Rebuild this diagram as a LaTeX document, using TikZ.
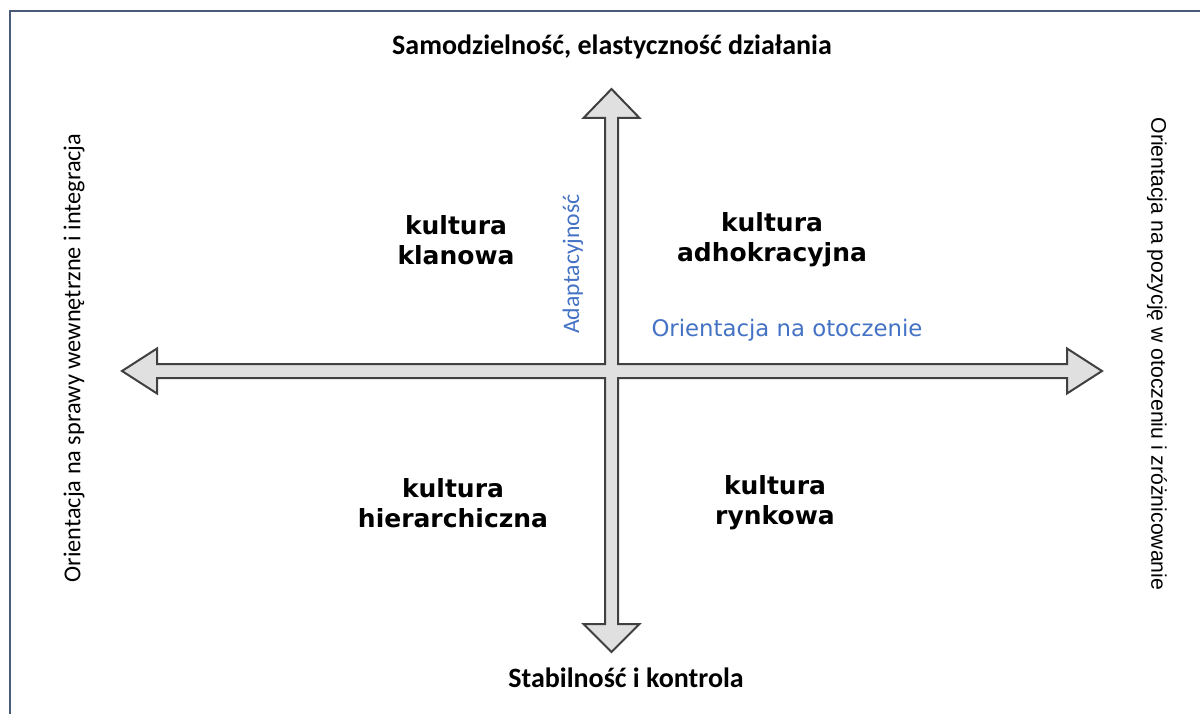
\documentclass[tikz,border=0pt]{standalone}
\usepackage{fontspec}
\setmainfont{Carlito}
\newfontfamily\quadfont{DejaVu Sans}
\newfontfamily\arialfont{Liberation Sans}
\usetikzlibrary{positioning}
\definecolor{framecol}{HTML}{4A5B7A}
\definecolor{axisfill}{HTML}{E0E0E0}
\definecolor{axisdraw}{HTML}{404040}
\definecolor{noteblue}{HTML}{4472C4}
\tikzset{
  % quadrant names: bold, two lines
  quadlabel/.style={
    align=center,
    inner sep=0pt,
    font=\quadfont\bfseries\fontsize{25}{30}\selectfont,
  },
  % axis ends, top and bottom
  polelabel/.style={inner sep=0pt, font=\bfseries\fontsize{28}{32}\selectfont},
  % rotated side labels
  sidelabel/.style={inner sep=0pt, font=\fontsize{24.3}{28}\selectfont},
  sidelabelr/.style={inner sep=0pt, font=\arialfont\fontsize{21.2}{25}\selectfont},
  % blue axis notes
  axisnote/.style={inner sep=0pt, text=noteblue},
  axisshape/.style={fill=axisfill, draw=axisdraw, line width=2pt, line join=miter},
  framerule/.style={draw=framecol, line width=2.5pt},
}

\begin{document}
\begin{tikzpicture}[x=1pt, y=-1pt]
  \useasboundingbox (0,0) rectangle (1200,714);
  \fill[white] (0,0) rectangle (1200,714);

  % frame, top and left only
  \draw[framerule] (10,714) -- (10,11) -- (1200,11);

  % the cross of axes, one outline
  \coordinate (origin) at (611.5,371);
  \draw[axisshape]
    (611.5,89) -- (639.5,118) -- (618,118) -- (618,364) -- (1067,364)
    -- (1067,348.5) -- (1102,371) -- (1067,393.5) -- (1067,378) -- (618,378)
    -- (618,624) -- (639.5,624) -- (611.5,652) -- (583.5,624) -- (605,624)
    -- (605,378) -- (157,378) -- (157,393.5) -- (122,371) -- (157,348.5)
    -- (157,364) -- (605,364) -- (605,118) -- (583.5,118) -- cycle;

  \node[polelabel] (flex) at (612,47) {Samodzielność, elastyczność działania};
  \node[polelabel] (stab) at (626,678) {Stabilność i kontrola};

  \node[sidelabel, rotate=90] (internal) at (74,358) {Orientacja na sprawy wewnętrzne i integracja};
  \node[sidelabelr, rotate=-90] (external) at (1157,354) {Orientacja na pozycję w otoczeniu i zróżnicowanie};

  \node[quadlabel] (clan) at (456,240) {kultura\\klanowa};
  \node[quadlabel] (adhoc) at (772,240) {kultura\\adhokracyjna};
  \node[quadlabel] (hier) at (453,503) {kultura\\hierarchiczna};
  \node[quadlabel] (market) at (775,503) {kultura\\rynkowa};

  \node[axisnote, rotate=90, font=\fontsize{23.7}{27}\selectfont] (adapt) at (573,264) {Adaptacyjność};
  \node[axisnote, font=\quadfont\fontsize{22.8}{26}\selectfont] (envir) at (787,330) {Orientacja na otoczenie};
\end{tikzpicture}
\end{document}
